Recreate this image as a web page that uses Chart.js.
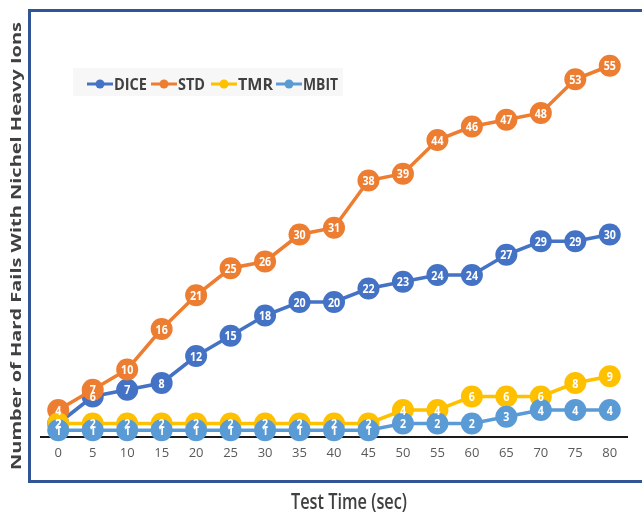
<!DOCTYPE html>
<html><head><meta charset="utf-8">
<script src="https://cdn.jsdelivr.net/npm/chart.js@4"></script>
<style>html,body{margin:0;padding:0;background:#fff}</style>
</head><body>
<canvas id="c" width="642" height="516"></canvas>
<script>
const categories = ['0','5','10','15','20','25','30','35','40','45','50','55','60','65','70','75','80'];
const seriesNames = ['DICE','STD','TMR','MBIT'];
const dice = [2,6,7,8,12,15,18,20,20,22,23,24,24,27,29,29,30];
const std  = [4,7,10,16,21,25,26,30,31,38,39,44,46,47,48,53,55];
const tmr  = [2,2,2,2,2,2,2,2,2,2,4,4,6,6,6,8,9];
const mbit = [1,1,1,1,1,1,1,1,1,1,2,2,2,3,4,4,4];
const xTitle = 'Test Time (sec)';
const yTitle = 'Number of Hard Fails With Nichel Heavy Ions';

const colors = ['#4472C4','#ED7D31','#FFC000','#5B9BD5'];
const FONT = "'Open Sans', Arial, sans-serif";

function ds(label, data, color, order){
  return {label, data, borderColor: color, backgroundColor: color,
    pointBackgroundColor: color, pointBorderColor: color, pointBorderWidth: 0,
    pointRadius: 11, borderWidth: 3.5, clip: false, order, tension: 0};
}

// draw text squeezed/stretched horizontally to a target width (text stays real text)
function fitText(ctx, text, x, y, targetW){
  const w = ctx.measureText(text).width;
  const s = targetW / w;
  ctx.save();
  ctx.translate(x, y);
  ctx.scale(s, 1);
  ctx.fillText(text, 0, 0);
  ctx.restore();
}

const framePlugin = {
  id: 'frame',
  beforeDraw(chart){
    const ctx = chart.ctx;
    ctx.save();
    ctx.fillStyle = '#fff';
    ctx.fillRect(0,0,chart.width,chart.height);
    ctx.strokeStyle = '#2F5597';
    ctx.lineWidth = 3;
    ctx.strokeRect(29.5, 10.5, 700, 471);
    ctx.restore();
  }
};

const labelsPlugin = {
  id: 'valueLabels',
  afterDatasetsDraw(chart){
    const ctx = chart.ctx;
    ctx.save();
    ctx.fillStyle = '#fff';
    ctx.font = "bold 13px " + FONT;
    ctx.textAlign = 'center';
    ctx.textBaseline = 'middle';
    chart.data.datasets.forEach((d, di) => {
      const meta = chart.getDatasetMeta(di);
      meta.data.forEach((pt, i) => {
        const t = String(d.data[i]);
        const w = ctx.measureText(t).width;
        fitText(ctx, t, pt.x, pt.y + 1, w * 0.82);
      });
    });
    ctx.restore();
  }
};

const legendPlugin = {
  id: 'customLegend',
  afterDraw(chart){
    const ctx = chart.ctx;
    ctx.save();
    ctx.fillStyle = '#f7f7f7';
    ctx.fillRect(73, 68, 270, 28);
    const y = 84;
    const starts = [87, 151, 211, 276];
    const widths = [33, 27, 35, 35];
    ctx.font = "bold 16px " + FONT;
    ctx.textBaseline = 'middle';
    ctx.textAlign = 'left';
    chart.data.datasets.forEach((d, i) => {
      const x = starts[i];
      ctx.strokeStyle = d.borderColor;
      ctx.lineWidth = 3;
      ctx.beginPath(); ctx.moveTo(x, y); ctx.lineTo(x + 26, y); ctx.stroke();
      ctx.fillStyle = d.borderColor;
      ctx.beginPath(); ctx.arc(x + 13, y, 4.5, 0, Math.PI*2); ctx.fill();
      ctx.fillStyle = '#404040';
      fitText(ctx, d.label, x + 27, y + 1, widths[i]);
    });
    ctx.restore();
  }
};

const titlePlugin = {
  id: 'axisTitles',
  afterDraw(chart){
    const ctx = chart.ctx;
    ctx.save();
    ctx.fillStyle = '#404040';
    ctx.textAlign = 'center';
    ctx.textBaseline = 'middle';
    ctx.font = "600 21px " + FONT;
    fitText(ctx, xTitle, 349, 503, 116);
    ctx.translate(17, 246);
    ctx.rotate(-Math.PI/2);
    ctx.font = "bold 15px " + FONT;
    fitText(ctx, yTitle, 0, 0, 448);
    ctx.restore();
  }
};

new Chart(document.getElementById('c'), {
  type: 'line',
  data: {
    labels: categories,
    datasets: [
      ds(seriesNames[0], dice, colors[0], 4),
      ds(seriesNames[1], std, colors[1], 3),
      ds(seriesNames[2], tmr, colors[2], 2),
      ds(seriesNames[3], mbit, colors[3], 1)
    ]
  },
  options: {
    responsive: false,
    animation: false,
    layout: { padding: { top: 32, right: 15, bottom: 0, left: 41 } },
    plugins: { legend: { display: false }, tooltip: { enabled: false } },
    scales: {
      x: {
        offset: true,
        grid: { display: true, drawOnChartArea: false, drawTicks: false, color: 'transparent' },
        border: { display: true, color: '#1a1a1a', width: 2 },
        ticks: { color: '#595959', font: { family: FONT, size: 13 }, padding: 8, maxRotation: 0, autoSkip: false },
        afterFit(scale){ scale.height = 79; }
      },
      y: { display: false, min: 0, max: 60 }
    }
  },
  plugins: [framePlugin, labelsPlugin, legendPlugin, titlePlugin]
});
</script>
</body></html>
